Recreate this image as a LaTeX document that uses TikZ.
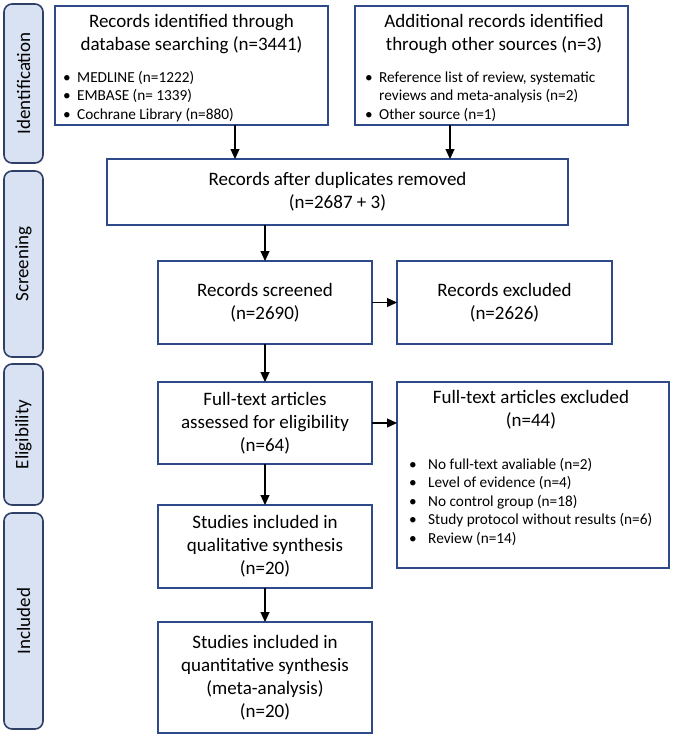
\documentclass[tikz,border=0pt]{standalone}
\usepackage{fontspec}
\setmainfont{Carlito}
\usetikzlibrary{arrows.meta}
\definecolor{boxblue}{HTML}{2E4A8A}
\definecolor{bandfill}{HTML}{D9E2F3}
\definecolor{bandedge}{HTML}{2F3F66}
\begin{document}
\begin{tikzpicture}[x=1pt,y=-1pt,
  flowbox/.style={draw=boxblue,line width=1.8pt,fill=white,inner sep=0pt,outer sep=0pt,
    align=center,font=\fontsize{19}{23}\selectfont},
  band/.style={draw=bandedge,fill=bandfill,line width=1.6pt,rounded corners=8pt,inner sep=0pt,outer sep=0pt},
  bandlabel/.style={rotate=90,font=\fontsize{19}{23}\selectfont,inner sep=0pt},
  title/.style={font=\fontsize{19}{22.5}\selectfont,align=center,inner sep=0pt},
  blist/.style={font=\fontsize{15.3}{18.5}\selectfont,align=left,inner sep=0pt,anchor=base west},
  arr/.style={-{Triangle[length=10pt,width=9pt]},line width=1.2pt,black}]
\useasboundingbox (0,0) rectangle (674,740);
% phase bands
\node[band,minimum width=39,minimum height=159] (bid) at (23.5,83.5) {};
\node[bandlabel] (lid) at (bid.center) {Identification};
\node[band,minimum width=39,minimum height=186] (bsc) at (23.5,264) {};
\node[bandlabel] (lsc) at (bsc.center) {Screening};
\node[band,minimum width=39,minimum height=141] (bel) at (23.5,434.5) {};
\node[bandlabel] (lel) at (bel.center) {Eligibility};
\node[band,minimum width=39,minimum height=216] (bin) at (23.5,621) {};
\node[bandlabel] (lin) at (bin.center) {Included};
% boxes
\node[flowbox,minimum width=273,minimum height=119] (box1) at (191.5,65.5) {};
\node[title,anchor=base] (t1) at (191.5,50) {Records identified through\\database searching (n=3441)};
\node[blist] (l1) at (63,119) {\makebox[14pt][l]{•}MEDLINE (n=1222)\\\makebox[14pt][l]{•}EMBASE (n= 1339)\\\makebox[14pt][l]{•}Cochrane Library (n=880)};
\node[flowbox,minimum width=273,minimum height=119] (box2) at (491.5,65.5) {};
\node[title,anchor=base] (t2) at (494,50) {Additional records identified\\through other sources (n=3)};
\node[blist] (l2) at (365,119) {\makebox[14pt][l]{•}Reference list of review, systematic\\\hspace*{14pt}reviews and meta-analysis (n=2)\\\makebox[14pt][l]{•}Other source (n=1)};
\node[flowbox,minimum width=461,minimum height=66] (dup) at (337.5,192) {Records after duplicates removed\\(n=2687 + 3)};
\node[flowbox,minimum width=214,minimum height=83] (scr) at (265,302.5) {Records screened\\(n=2690)};
\node[flowbox,minimum width=215,minimum height=83] (excl) at (504.5,302.5) {Records excluded\\(n=2626)};
\node[flowbox,minimum width=214,minimum height=82] (ft) at (265,423) {Full-text articles\\assessed for eligibility\\(n=64)};
\node[flowbox,minimum width=272,minimum height=186] (fexcl) at (533,475) {};
\node[title,anchor=base] (t3) at (531,426) {Full-text articles excluded\\(n=44)};
\node[blist] (l3) at (409,543) {\makebox[19pt][l]{•}No full-text avaliable (n=2)\\\makebox[19pt][l]{•}Level of evidence (n=4)\\\makebox[19pt][l]{•}No control group (n=18)\\\makebox[19pt][l]{•}Study protocol without results (n=6)\\\makebox[19pt][l]{•}Review (n=14)};
\node[flowbox,minimum width=214,minimum height=83] (qual) at (265,546.5) {Studies included in\\qualitative synthesis\\(n=20)};
\node[flowbox,minimum width=214,minimum height=111] (quant) at (265,677.5) {Studies included in\\quantitative synthesis\\(meta-analysis)\\(n=20)};
% connectors
\coordinate (xa) at (235,0);
\coordinate (xb) at (450,0);
\draw[arr] (box1.south -| xa) -- (dup.north -| xa);
\draw[arr] (box2.south -| xb) -- (dup.north -| xb);
\draw[arr] (dup.south -| scr.north) -- (scr.north);
\draw[arr] (scr.east) -- (excl.west);
\draw[arr] (scr.south) -- (ft.north);
\draw[arr] (ft.east) -- (fexcl.west |- ft.east);
\draw[arr] (ft.south) -- (qual.north);
\draw[arr] (qual.south) -- (quant.north);
\end{tikzpicture}
\end{document}
